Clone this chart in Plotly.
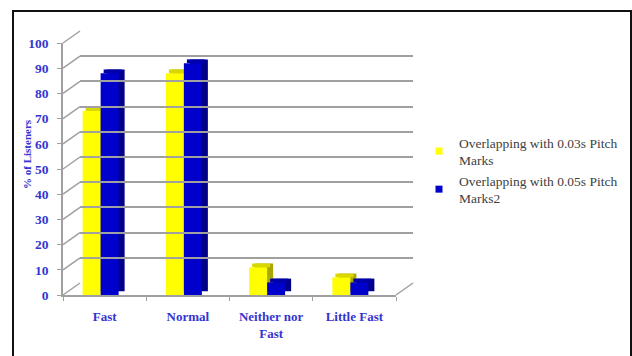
import plotly.graph_objects as go

categories = ["Fast", "Normal", "Neither nor<br>Fast", "Little Fast"]
series_names = ["Overlapping with 0.03s Pitch<br>Marks", "Overlapping with 0.05s Pitch<br>Marks2"]
vals_003 = [73, 88, 11, 7]
vals_005 = [88, 92, 5, 5]
y_ticks = [0, 10, 20, 30, 40, 50, 60, 70, 80, 90, 100]

W, H = 632, 356
# pixel geometry (front plane, back plane, bar plane)
FX0, FX1 = 63, 396
BX0, BX1 = 80, 413
F_Y0, F_Y100 = 295, 43
B_Y0, B_Y100 = 283, 31
BAR_Y0 = 291

def px(x):
    return x / W

def py(y):
    return 1 - y / H

cat_px = (FX1 - FX0) / len(categories)
def dx(p):
    return p / cat_px

xs = list(range(len(categories)))
font_serif = "Liberation Serif"
blue_txt = "#3535D0"
grid_c = "#A0A0A0"

fig = go.Figure()

dx_depth = dx(6)
dy_depth = 1.5
# values, front colour, top colour, side colour, offset, width
series = [
    (vals_003, "#FFFF00", "#D8D800", "#A8A800", dx(83 - 105), dx(18)),
    (vals_005, "#0000CC", "#0000AA", "#000088", dx(101 - 105), dx(18)),
]
# side faces
for vals, front, top, side, off, wid in series:
    fig.add_trace(go.Bar(x=xs, y=vals, base=[dy_depth] * len(vals), offset=off + dx_depth, width=wid,
                         marker=dict(color=side, line=dict(width=0)), xaxis="x", yaxis="y3",
                         showlegend=False, hoverinfo="skip"))
# top faces
for vals, front, top, side, off, wid in series:
    fig.add_trace(go.Bar(x=xs, y=[dy_depth] * len(vals), base=vals, offset=off + dx_depth * 0.5, width=wid,
                         marker=dict(color=top, line=dict(width=0)), xaxis="x", yaxis="y3",
                         showlegend=False, hoverinfo="skip"))
# front faces
for (vals, front, top, side, off, wid), name in zip(series, series_names):
    fig.add_trace(go.Bar(x=xs, y=vals, offset=off, width=wid, name=name,
                         marker=dict(color=front, line=dict(width=0)), xaxis="x", yaxis="y3",
                         showlegend=False))
# legend entries
for (vals, front, top, side, off, wid), name in zip(series, series_names):
    fig.add_trace(go.Scatter(x=[None], y=[None], mode="markers", name=name,
                             marker=dict(symbol="square", size=7, color=front), xaxis="x", yaxis="y"))
# invisible trace so the back-wall axes are drawn
fig.add_trace(go.Scatter(x=[None], y=[None], xaxis="x2", yaxis="y2", showlegend=False, hoverinfo="skip"))

shapes = []
# outer border
shapes.append(dict(type="rect", xref="paper", yref="paper", x0=px(13), x1=px(631), y0=py(11), y1=py(358),
                   line=dict(color="#111111", width=2), layer="above"))
# left wall diagonals
for v in y_ticks:
    yf = F_Y0 + (F_Y100 - F_Y0) * v / 100
    yb = B_Y0 + (B_Y100 - B_Y0) * v / 100
    shapes.append(dict(type="line", xref="paper", yref="paper", x0=px(FX0), y0=py(yf), x1=px(BX0), y1=py(yb),
                       line=dict(color=grid_c, width=1.5), layer="below"))
# floor right edge
shapes.append(dict(type="line", xref="paper", yref="paper", x0=px(FX1), y0=py(F_Y0), x1=px(BX1), y1=py(B_Y0),
                   line=dict(color=grid_c, width=1.5), layer="below"))

fig.update_layout(
    template="none",
    width=W, height=H,
    margin=dict(l=0, r=0, t=0, b=0, pad=0, autoexpand=False),
    paper_bgcolor="white", plot_bgcolor="rgba(0,0,0,0)",
    barmode="overlay",
    shapes=shapes,
    xaxis=dict(domain=[px(FX0), px(FX1)], range=[-0.5, len(categories) - 0.5], anchor="y",
               tickvals=xs, ticktext=categories, ticks="", showgrid=False, zeroline=False,
               showline=True, linecolor=grid_c, linewidth=1.5, automargin=False, ticklabelstandoff=9,
               tickfont=dict(family=font_serif, size=13, color=blue_txt, weight="bold"),
               minor=dict(tickvals=[i - 0.5 for i in range(len(categories) + 1)], ticks="outside",
                          ticklen=4, tickcolor=grid_c, showgrid=False)),
    yaxis=dict(domain=[py(F_Y0), py(F_Y100)], range=[0, 100], anchor="x", tickvals=y_ticks,
               ticks="outside", ticklen=4, tickcolor=grid_c, showgrid=False, zeroline=False,
               showline=True, linecolor=grid_c, linewidth=1.5, ticklabelstandoff=6, automargin=False,
               tickfont=dict(family=font_serif, size=13.5, color=blue_txt, weight="bold")),
    xaxis2=dict(domain=[px(BX0), px(BX1)], range=[0, 1], anchor="y2", showticklabels=False,
                showgrid=False, zeroline=False, showline=False, ticks="", automargin=False),
    yaxis2=dict(domain=[py(B_Y0), py(B_Y100)], range=[0, 100], anchor="x2", tickvals=y_ticks,
                showticklabels=False, showgrid=True, gridcolor=grid_c, gridwidth=1.5,
                zeroline=False, showline=False, ticks="", automargin=False),
    yaxis3=dict(domain=[py(BAR_Y0), py(BAR_Y0 - (F_Y0 - F_Y100))], range=[0, 100], anchor="x",
                overlaying="y", visible=False, automargin=False),
    legend=dict(x=px(419), y=py(127), xanchor="left", yanchor="top",
                font=dict(family=font_serif, size=13.5, color="#404040"),
                bgcolor="rgba(0,0,0,0)", borderwidth=0),
    annotations=[dict(text="% of Listeners", xref="paper", yref="paper", x=px(27), y=py(154),
                      xanchor="center", yanchor="middle",
                      textangle=-90, showarrow=False,
                      font=dict(family=font_serif, size=11, color=blue_txt, weight="bold"))],
)

fig.write_html("out.html")
